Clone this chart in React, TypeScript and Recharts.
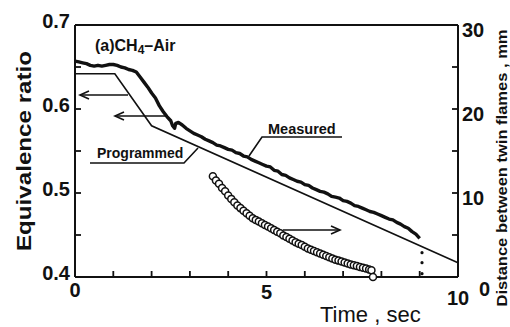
import { ComposedChart, Line, Scatter, XAxis, YAxis } from 'recharts';

// time (s) / equivalence ratio
const measuredTime = [
  0, 0.1, 0.2, 0.3, 0.4, 0.5, 0.6, 0.7, 0.8, 0.9, 1.0, 1.1, 1.2, 1.3, 1.4, 1.5, 1.6, 1.7, 1.8, 1.9,
  2.0, 2.1, 2.2, 2.3, 2.4, 2.5, 2.55, 2.6, 2.63, 2.7, 2.8, 2.9, 3.0, 3.1, 3.2, 3.3, 3.4, 3.5, 3.6,
  3.7, 3.8, 3.9, 4.0, 4.1, 4.2, 4.3, 4.4, 4.5, 4.6, 4.7, 4.8, 4.9, 5.0, 5.1, 5.2, 5.3, 5.4, 5.5,
  5.6, 5.7, 5.8, 5.9, 6.0, 6.1, 6.2, 6.3, 6.4, 6.5, 6.6, 6.7, 6.8, 6.9, 7.0, 7.1, 7.2, 7.3, 7.4,
  7.5, 7.6, 7.7, 7.8, 7.9, 8.0, 8.1, 8.2, 8.3, 8.4, 8.5, 8.6, 8.7, 8.8, 8.9, 9.0,
];
const measuredRatio = [
  0.657, 0.656, 0.655, 0.654, 0.652, 0.651, 0.652, 0.651, 0.652, 0.653, 0.653, 0.652, 0.65, 0.649,
  0.647, 0.646, 0.644, 0.638, 0.632, 0.626, 0.619, 0.613, 0.604, 0.597, 0.591, 0.586, 0.58, 0.577,
  0.583, 0.584, 0.581, 0.577, 0.574, 0.571, 0.569, 0.567, 0.564, 0.562, 0.56, 0.557, 0.556, 0.554,
  0.552, 0.551, 0.548, 0.547, 0.544, 0.543, 0.54, 0.538, 0.536, 0.534, 0.532, 0.531, 0.527, 0.526,
  0.522, 0.521, 0.518, 0.516, 0.514, 0.513, 0.51, 0.509, 0.506, 0.504, 0.502, 0.501, 0.499, 0.496,
  0.495, 0.494, 0.491, 0.49, 0.488, 0.485, 0.484, 0.482, 0.48, 0.478, 0.477, 0.475, 0.473, 0.471,
  0.469, 0.468, 0.465, 0.463, 0.46, 0.458, 0.454, 0.451, 0.446,
];

// dotted tail under the end of the measured trace
const tailTime = [9.06, 9.06, 9.06];
const tailRatio = [0.429, 0.417, 0.404];

const programmedTime = [0, 1.04, 2.0, 10];
const programmedRatio = [0.642, 0.642, 0.58, 0.417];

// flame distance (mm), open circles
const distTime = [
  3.6, 3.68, 3.76, 3.84, 3.92, 4.0, 4.08, 4.16, 4.24, 4.32, 4.4, 4.48, 4.56, 4.64, 4.72, 4.8, 4.88,
  4.96, 5.04, 5.12, 5.2, 5.28, 5.36, 5.44, 5.52, 5.6, 5.68, 5.76, 5.84, 5.92, 6.0, 6.08, 6.16, 6.24,
  6.32, 6.4, 6.48, 6.56, 6.64, 6.72, 6.8, 6.88, 6.96, 7.04, 7.12, 7.2, 7.28, 7.36, 7.44, 7.52, 7.6,
  7.68, 7.74, 7.78,
];
const distMm = [
  12.0, 11.5, 11.1, 10.6, 10.2, 9.7, 9.3, 8.9, 8.5, 8.2, 7.9, 7.6, 7.3, 7.0, 6.8, 6.6, 6.4, 6.2, 6.0,
  5.8, 5.6, 5.4, 5.2, 4.95, 4.75, 4.55, 4.35, 4.15, 3.95, 3.8, 3.6, 3.4, 3.25, 3.1, 2.95, 2.8, 2.65,
  2.5, 2.35, 2.2, 2.05, 1.95, 1.85, 1.72, 1.6, 1.5, 1.4, 1.3, 1.2, 1.1, 1.0, 0.9, 0.8, 0.0,
];

const xTicks = [0, 1, 2, 3, 4, 5, 6, 7, 8, 9, 10];
const xLabels = [0, 5, 10];
const leftTicks = [0.4, 0.45, 0.5, 0.55, 0.6, 0.65, 0.7];
const leftLabels = ['0.4', '0.5', '0.6', '0.7'];
const rightTicks = [0, 5, 10, 15, 20, 25, 30];
const rightLabels = [0, 10, 20, 30];

const measured = measuredTime.map((t, i) => ({ t, eq: measuredRatio[i] }));
const tail = tailTime.map((t, i) => ({ t, eq: tailRatio[i] }));
const programmed = programmedTime.map((t, i) => ({ t, eq: programmedRatio[i] }));
const distance = distTime.map((t, i) => ({ t, d: distMm[i] }));

const FONT = "'Liberation Sans', Arial, sans-serif";
const INK = '#111';
const TICK = 6;

// tickSize/tickMargin are 0, so x/y arrive sitting on the axis line;
// the inward tick mark and the label are both drawn here
const BottomTick = (props: any) => {
  const { x, y, payload } = props;
  const v = payload.value;
  const shift = v === 10 ? 14 : v === 5 ? 8 : 6;
  return (
    <g>
      <line x1={x} y1={y} x2={x} y2={y - TICK} stroke={INK} strokeWidth={1.8} />
      {xLabels.includes(v) && (
        <text x={x} y={y + shift} dy="0.71em" textAnchor="middle" fontSize={20} fontWeight="bold" fontFamily={FONT} fill={INK}>
          {v}
        </text>
      )}
    </g>
  );
};

const TopTick = (props: any) => {
  const { x, y } = props;
  return <line x1={x} y1={y} x2={x} y2={y + TICK} stroke={INK} strokeWidth={1.8} />;
};

const LeftTick = (props: any) => {
  const { x, y, payload } = props;
  const label = Number(payload.value).toFixed(2).replace(/0$/, '');
  return (
    <g>
      <line x1={x} y1={y} x2={x + TICK} y2={y} stroke={INK} strokeWidth={1.8} />
      {leftLabels.includes(label) && (
        <text x={x - 5} y={y - 4} dy="0.355em" textAnchor="end" fontSize={20} fontWeight="bold" fontFamily={FONT} fill={INK}>
          {label}
        </text>
      )}
    </g>
  );
};

const RightTick = (props: any) => {
  const { x, y, payload } = props;
  const v = payload.value;
  const isZero = v === 0;
  return (
    <g>
      <line x1={x} y1={y} x2={x - TICK} y2={y} stroke={INK} strokeWidth={1.8} />
      {rightLabels.includes(v) && (
        <text x={x + (isZero ? 21 : 4)} y={y + (isZero ? 12 : 5)} dy="0.355em" textAnchor="start" fontSize={20} fontWeight="bold" fontFamily={FONT} fill={INK}>
          {v}
        </text>
      )}
    </g>
  );
};

const OpenCircle = (props: any) => (
  <circle cx={props.cx} cy={props.cy} r={3.5} fill="#fff" stroke={INK} strokeWidth={1.5} />
);
const SmallDot = (props: any) => <circle cx={props.cx} cy={props.cy} r={1.6} fill={INK} />;

const Notes = () => (
  <svg width={510} height={327} style={{ position: 'absolute', left: 0, top: 0, pointerEvents: 'none' }}>
    <g stroke={INK} strokeWidth={1.6} fill="none">
      <line x1={128} y1={95} x2={80} y2={95} />
      <polyline points="89,91 80,95 89,99" />
      <line x1={168} y1={116} x2={115} y2={116} />
      <polyline points="124,112 115,116 124,120" />
      <line x1={283} y1={230} x2={340} y2={230} />
      <polyline points="331,226 340,230 331,234" />
      <polyline points="90,163 184,163 198,148" />
      <polyline points="342,137 262,137 249,156" />
    </g>
    <g fontFamily={FONT} fill={INK}>
      <text x={95} y={51} fontSize={16} fontWeight="bold">
        (a)CH<tspan fontSize={12} dy={3}>4</tspan>
        <tspan dy={-3}>–Air</tspan>
      </text>
      <text x={97} y={158} fontSize={14} fontWeight="bold">Programmed</text>
      <text x={268} y={134} fontSize={14.5} fontWeight="bold">Measured</text>
      <text x={320} y={322} fontSize={22}>Time , sec</text>
      <text transform="translate(31,151) rotate(-90)" textAnchor="middle" fontSize={21} fontWeight="bold" textLength={200} lengthAdjust="spacingAndGlyphs">
        Equivalence ratio
      </text>
      <text transform="translate(507,168) rotate(-90)" textAnchor="middle" fontSize={14} fontWeight="bold" textLength={277} lengthAdjust="spacingAndGlyphs">
        Distance between twin flames , mm
      </text>
    </g>
  </svg>
);

export default function App() {
  return (
    <div style={{ position: 'absolute', left: 0, top: 0, width: 510, height: 327, background: '#fff' }}>
      <ComposedChart width={510} height={327} margin={{ top: 5, right: 0, bottom: 0, left: 0 }}>
        <XAxis
          dataKey="t"
          type="number"
          domain={[0, 10]}
          ticks={xTicks}
          interval={0}
          height={50}
          tickSize={0}
          tickMargin={0}
          tickLine={false}
          tick={BottomTick}
          axisLine={{ stroke: INK, strokeWidth: 2 }}
        />
        <XAxis
          xAxisId="top"
          orientation="top"
          type="number"
          domain={[0, 10]}
          ticks={xTicks}
          interval={0}
          height={20}
          tickSize={0}
          tickMargin={0}
          tickLine={false}
          tick={TopTick}
          axisLine={{ stroke: INK, strokeWidth: 2 }}
        />
        <YAxis
          yAxisId="left"
          dataKey="eq"
          type="number"
          domain={[0.4, 0.7]}
          ticks={leftTicks}
          interval={0}
          width={75}
          tickSize={0}
          tickMargin={0}
          tickLine={false}
          tick={LeftTick}
          axisLine={{ stroke: INK, strokeWidth: 2 }}
        />
        <YAxis
          yAxisId="right"
          orientation="right"
          dataKey="d"
          type="number"
          domain={[0, 30]}
          ticks={rightTicks}
          interval={0}
          width={52}
          tickSize={0}
          tickMargin={0}
          tickLine={false}
          tick={RightTick}
          axisLine={{ stroke: INK, strokeWidth: 2 }}
        />
        <Line
          yAxisId="left"
          data={programmed}
          dataKey="eq"
          type="linear"
          stroke={INK}
          strokeWidth={1.6}
          dot={false}
          isAnimationActive={false}
        />
        <Line
          yAxisId="left"
          data={measured}
          dataKey="eq"
          type="linear"
          stroke={INK}
          strokeWidth={3.4}
          strokeLinejoin="round"
          dot={false}
          isAnimationActive={false}
        />
        <Scatter yAxisId="left" data={tail} dataKey="eq" shape={SmallDot} isAnimationActive={false} />
        <Scatter yAxisId="right" data={distance} dataKey="d" shape={OpenCircle} isAnimationActive={false} />
      </ComposedChart>
      <Notes />
    </div>
  );
}
